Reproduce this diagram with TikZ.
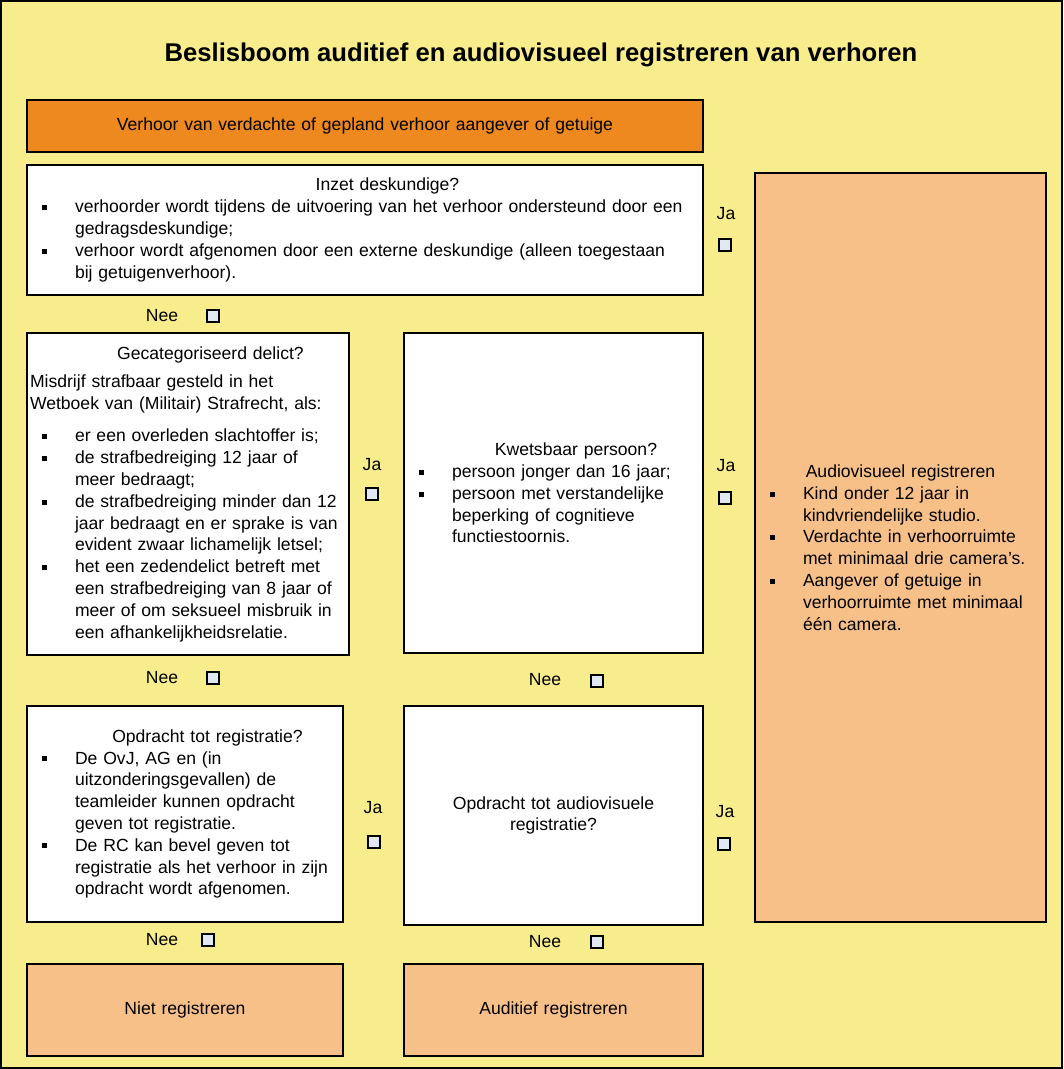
\documentclass[tikz,border=0pt]{standalone}
\usepackage{fontspec}
\setmainfont{Liberation Sans}
\usetikzlibrary{positioning}
\definecolor{bgyellow}{RGB}{248,237,140}
\definecolor{startorange}{RGB}{238,137,32}
\definecolor{endpeach}{RGB}{248,192,137}
\definecolor{chkblue}{RGB}{225,231,243}
\newlength{\hng}\setlength{\hng}{0.9cm}
% bullet line with hanging indent, heading centred over the indented part
\newcommand{\bul}{\par\noindent\hangindent=\hng\hangafter=1\makebox[\hng][l]{\hspace{0.24cm}\rule[0.3ex]{0.1cm}{0.1cm}}}
\newcommand{\hd}[1]{\noindent\hspace*{\hng}\makebox[\dimexpr\linewidth-\hng\relax]{#1}\par}
\newcommand{\hdc}[1]{\noindent\makebox[\linewidth]{#1}\par}
\tikzset{
  box/.style={draw=black,line width=1.2pt,fill=white,inner xsep=0.06cm,
              inner ysep=0pt,align=left,font=\fontsize{10}{12.4}\selectfont},
  boxS/.style={box,fill=startorange,align=center},
  boxE/.style={box,fill=endpeach},
  lbl/.style={font=\fontsize{10}{12}\selectfont,inner sep=0pt},
  chk/.style={draw=black,line width=1.1pt,fill=chkblue,minimum width=0.23cm,
              minimum height=0.25cm,inner sep=0pt},
}
\begin{document}
\begin{tikzpicture}[x=0.02cm,y=-0.02cm]
  \useasboundingbox (0,0) rectangle (1063,1069);
  \fill[bgyellow] (0,0) rectangle (1063,1069);
  \draw[line width=1.2pt] (1,1) rectangle (1062,1068);
  % title
  \node[font=\bfseries\fontsize{14.6}{17}\selectfont] (title) at (541,55)
    {Beslisboom auditief en audiovisueel registreren van verhoren};
  % start
  \node[boxS,text width=13.40cm,minimum height=1.04cm] (start) at (365,126)
    {Verhoor van verdachte of gepland verhoor aangever of getuige};
  % questions
  \node[box,text width=13.40cm,minimum height=2.6cm] (inzet) at (365,230) {%
    \hd{Inzet deskundige?}
    \bul verhoorder wordt tijdens de uitvoering van het verhoor ondersteund door een\newline gedragsdeskundige;
    \bul verhoor wordt afgenomen door een externe deskundige (alleen toegestaan\newline bij getuigenverhoor).\par};
  \node[box,text width=6.32cm,minimum height=6.44cm] (gecat) at (188,494) {%
    \hd{Gecategoriseerd delict?}\vspace{4pt}
    \noindent Misdrijf strafbaar gesteld in het\newline Wetboek van (Militair) Strafrecht, als:\par\vspace{6pt}
    \bul er een overleden slachtoffer is;
    \bul de strafbedreiging 12 jaar of\newline meer bedraagt;
    \bul de strafbedreiging minder dan 12\newline jaar bedraagt en er sprake is van\newline evident zwaar lichamelijk letsel;
    \bul het een zedendelict betreft met\newline een strafbedreiging van 8 jaar of\newline meer of om seksueel misbruik in\newline een afhankelijkheidsrelatie.\par};
  \node[box,text width=5.86cm,minimum height=6.4cm] (kwets) at (553.5,493) {%
    \hd{Kwetsbaar persoon?}
    \bul persoon jonger dan 16 jaar;
    \bul persoon met verstandelijke\newline beperking of cognitieve\newline functiestoornis.\par};
  \node[box,text width=6.20cm,minimum height=4.32cm] (opdr) at (185,814) {%
    \hd{Opdracht tot registratie?}
    \bul De OvJ, AG en (in\newline uitzonderingsgevallen) de\newline teamleider kunnen opdracht\newline geven tot registratie.
    \bul De RC kan bevel geven tot\newline registratie als het verhoor in zijn\newline opdracht wordt afgenomen.\par};
  \node[box,align=center,text width=5.86cm,minimum height=4.38cm] (opdrav) at (553.5,815.5)
    {Opdracht tot audiovisuele\\registratie?};
  % outcomes
  \node[boxE,text width=5.70cm,minimum height=14.98cm] (audiov) at (900.5,547.5) {%
    \hdc{Audiovisueel registreren}
    \bul Kind onder 12 jaar in\newline kindvriendelijke studio.
    \bul Verdachte in verhoorruimte\newline met minimaal drie camera's.
    \bul Aangever of getuige in\newline verhoorruimte met minimaal\newline één camera.\par};
  \node[boxE,align=center,text width=6.20cm,minimum height=1.84cm] (niet) at (185,1010)
    {Niet registreren};
  \node[boxE,align=center,text width=5.86cm,minimum height=1.84cm] (audit) at (553.5,1010)
    {Auditief registreren};
  % ja / nee
  \node[lbl] (ja1) at (726,214) {Ja};
  \node[chk] (cja1) at (725,245) {};
  \node[lbl] (nee1) at (162,316) {Nee};
  \node[chk] (cnee1) at (213,316) {};
  \node[lbl] (ja2) at (372,465) {Ja};
  \node[chk] (cja2) at (372,494) {};
  \node[lbl] (ja3) at (726,466) {Ja};
  \node[chk] (cja3) at (725,498) {};
  \node[lbl] (nee2) at (162,678) {Nee};
  \node[chk] (cnee2) at (213,678) {};
  \node[lbl] (nee3) at (545,680) {Nee};
  \node[chk] (cnee3) at (597,681) {};
  \node[lbl] (ja4) at (373,808) {Ja};
  \node[chk] (cja4) at (374,842) {};
  \node[lbl] (ja5) at (725,812) {Ja};
  \node[chk] (cja5) at (724,844) {};
  \node[lbl] (nee4) at (162,940) {Nee};
  \node[chk] (cnee4) at (208,940) {};
  \node[lbl] (nee5) at (545,942) {Nee};
  \node[chk] (cnee5) at (597,942) {};
\end{tikzpicture}
\end{document}
